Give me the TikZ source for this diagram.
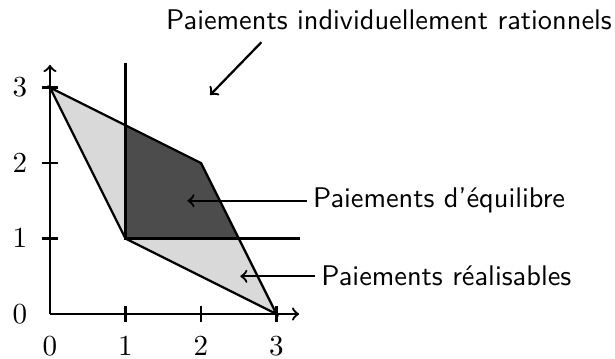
\documentclass[tikz,border=0pt]{standalone}
\begin{document}
\begin{tikzpicture}[x=1cm,y=1cm,line width=0.85pt,
  lbl/.style={font=\sffamily\fontsize{10.7}{13}\selectfont,inner sep=2pt},
  tk/.style={font=\rmfamily\fontsize{10.9}{13}\selectfont},
  ptr/.style={->}]
\useasboundingbox (-0.662,-0.583) rectangle (7.483,4.159);
\fill[black!15] (0,3) -- (1,1) -- (3,0) -- (2,2) -- cycle;
\fill[black!70] (1,1) -- (1,2.5) -- (2,2) -- (2.5,1) -- cycle;
\draw (0,3) -- (1,1) -- (3,0) -- (2,2) -- cycle;
\coordinate (O) at (0,0);
\coordinate (xe) at (3.3,0);
\coordinate (ye) at (0,3.3);
\draw[->] (O) -- (xe);
\draw[->] (O) -- (ye);
\coordinate (v0) at (1,1);
\coordinate (v1) at (1,3.33);
\coordinate (h1) at (3.31,1);
\draw (v1) -- (v0) -- (h1);
\foreach \i in {1,2,3} {
  \draw (\i,-0.11) -- (\i,0.11);
  \draw (-0.11,\i) -- (0.11,\i);
}
\foreach \i in {0,1,2,3} {
  \node[tk] (xl\i) at (\i,-0.42) {$\i$};
  \node[tk] (yl\i) at (-0.4,\i) {$\i$};
}
\node[lbl] (ir) at (4.49,3.9) {Paiements individuellement rationnels};
\coordinate (irs) at (2.8,3.6);
\coordinate (ire) at (2.12,2.9);
\draw[ptr] (irs) -- (ire);
\node[lbl,anchor=west] (eq) at (3.40,1.5) {Paiements d'équilibre};
\coordinate (eqe) at (1.82,1.5);
\draw[ptr] (eq.west) -- (eqe);
\node[lbl,anchor=west] (re) at (3.51,0.5) {Paiements réalisables};
\coordinate (ree) at (2.52,0.5);
\draw[ptr] (re.west) -- (ree);
\end{tikzpicture}
\end{document}
